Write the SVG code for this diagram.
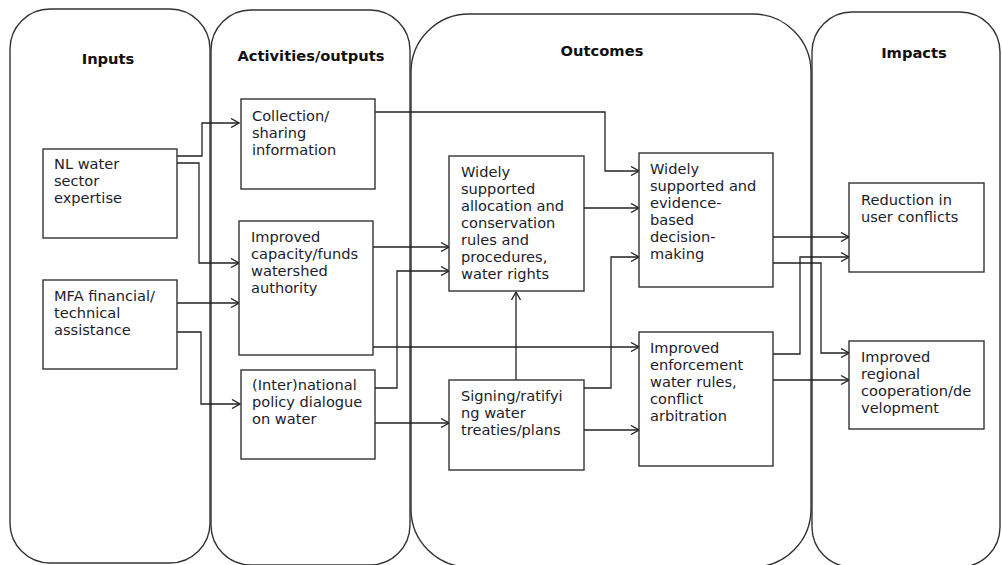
<svg xmlns="http://www.w3.org/2000/svg" width="1002" height="565" viewBox="0 0 1002 565">
  <defs>
    <marker id="arrow" markerWidth="10" markerHeight="10" refX="9" refY="5" orient="auto" markerUnits="userSpaceOnUse">
      <path d="M1,0.5 L9,5 L1,9.5" fill="none" stroke="#222" stroke-width="1.3"/>
    </marker>
    <style>
      .frame { fill: none; stroke: #333; stroke-width: 1.4; }
      .box { fill: #fff; stroke: #333; stroke-width: 1.4; }
      .title { font-family: "DejaVu Sans", Verdana, sans-serif; font-weight: bold; font-size: 14.7px; fill: #111; text-anchor: middle; }
      .label { font-family: "DejaVu Sans", Verdana, sans-serif; font-size: 14.6px; fill: #1c1c2a; }
      .conn { fill: none; stroke: #222; stroke-width: 1.3; }
      .conn.arr { marker-end: url(#arrow); }
    </style>
  </defs>
  <rect width="1002" height="565" fill="#fff"/>

  <!-- column frames -->
  <g id="columns">
    <g id="col-inputs">
      <rect class="frame" x="10" y="9" width="200" height="554" rx="40" ry="40"/>
      <text class="title" x="108" y="64">Inputs</text>
    </g>
    <g id="col-activities">
      <rect class="frame" x="211" y="10" width="199" height="555" rx="40" ry="40"/>
      <text class="title" x="311" y="61">Activities/outputs</text>
    </g>
    <g id="col-outcomes">
      <rect class="frame" x="411" y="14" width="400" height="553" rx="58" ry="58"/>
      <text class="title" x="602" y="55.5">Outcomes</text>
    </g>
    <g id="col-impacts">
      <rect class="frame" x="812" y="12" width="188" height="555" rx="40" ry="40"/>
      <text class="title" x="914" y="57.5">Impacts</text>
    </g>
  </g>

  <!-- connectors -->
  <g id="connectors">
    <polyline class="conn arr" points="177,156 202,156 202,123 239,123"/>
    <polyline class="conn arr" points="177,163 199,163 199,263 239,263"/>
    <polyline class="conn arr" points="177,303 239,303"/>
    <polyline class="conn arr" points="177,332 201,332 201,404 240,404"/>
    <polyline class="conn arr" points="375,112 605,112 605,171 639,171"/>
    <polyline class="conn arr" points="373,247 449,247"/>
    <polyline class="conn arr" points="375,388 397,388 397,271 449,271"/>
    <polyline class="conn arr" points="373,347 639,347"/>
    <polyline class="conn arr" points="375,423 449,423"/>
    <polyline class="conn arr" points="516,380 516,292"/>
    <polyline class="conn arr" points="584,388 611,388 611,257 639,257"/>
    <polyline class="conn arr" points="584,208 639,208"/>
    <polyline class="conn arr" points="584,430 639,430"/>
    <polyline class="conn arr" points="773,237 849,237"/>
    <polyline class="conn arr" points="773,263 821,263 821,353 849,353"/>
    <polyline class="conn arr" points="773,354 800,354 800,257 849,257"/>
    <polyline class="conn arr" points="773,380 849,380"/>
  </g>

  <!-- input nodes -->
  <g id="node-nl-expertise">
    <rect class="box" x="43" y="149" width="134" height="89"/>
    <text class="label" x="54" y="169">NL water</text>
    <text class="label" x="54" y="186">sector</text>
    <text class="label" x="54" y="203">expertise</text>
  </g>
  <g id="node-mfa-assistance">
    <rect class="box" x="43" y="280" width="134" height="89"/>
    <text class="label" x="54" y="301">MFA financial/</text>
    <text class="label" x="54" y="318">technical</text>
    <text class="label" x="54" y="335">assistance</text>
  </g>

  <!-- activity / output nodes -->
  <g id="node-collection">
    <rect class="box" x="241" y="99" width="134" height="90"/>
    <text class="label" x="252" y="121">Collection/</text>
    <text class="label" x="252" y="138">sharing</text>
    <text class="label" x="252" y="155">information</text>
  </g>
  <g id="node-capacity">
    <rect class="box" x="239" y="221" width="134" height="134"/>
    <text class="label" x="251" y="242">Improved</text>
    <text class="label" x="251" y="259">capacity/funds</text>
    <text class="label" x="251" y="276">watershed</text>
    <text class="label" x="251" y="293">authority</text>
  </g>
  <g id="node-policy-dialogue">
    <rect class="box" x="241" y="370" width="134" height="89"/>
    <text class="label" x="252" y="390">(Inter)national</text>
    <text class="label" x="252" y="407">policy dialogue</text>
    <text class="label" x="252" y="424">on water</text>
  </g>

  <!-- outcome nodes -->
  <g id="node-allocation-rules">
    <rect class="box" x="449" y="156" width="135" height="135"/>
    <text class="label" x="461" y="177">Widely</text>
    <text class="label" x="461" y="194">supported</text>
    <text class="label" x="461" y="211">allocation and</text>
    <text class="label" x="461" y="228">conservation</text>
    <text class="label" x="461" y="245">rules and</text>
    <text class="label" x="461" y="262">procedures,</text>
    <text class="label" x="461" y="279">water rights</text>
  </g>
  <g id="node-decision-making">
    <rect class="box" x="639" y="153" width="134" height="134"/>
    <text class="label" x="650" y="174">Widely</text>
    <text class="label" x="650" y="191">supported and</text>
    <text class="label" x="650" y="208">evidence-</text>
    <text class="label" x="650" y="225">based</text>
    <text class="label" x="650" y="242">decision-</text>
    <text class="label" x="650" y="259">making</text>
  </g>
  <g id="node-treaties">
    <rect class="box" x="449" y="380" width="135" height="90"/>
    <text class="label" x="461" y="401">Signing/ratifyi</text>
    <text class="label" x="461" y="418">ng water</text>
    <text class="label" x="461" y="435">treaties/plans</text>
  </g>
  <g id="node-enforcement">
    <rect class="box" x="639" y="332" width="134" height="134"/>
    <text class="label" x="650" y="352.5">Improved</text>
    <text class="label" x="650" y="369.5">enforcement</text>
    <text class="label" x="650" y="386.5">water rules,</text>
    <text class="label" x="650" y="403.5">conflict</text>
    <text class="label" x="650" y="420.5">arbitration</text>
  </g>

  <!-- impact nodes -->
  <g id="node-reduction-conflicts">
    <rect class="box" x="849" y="183" width="135" height="89"/>
    <text class="label" x="861" y="205">Reduction in</text>
    <text class="label" x="861" y="222">user conflicts</text>
  </g>
  <g id="node-regional-cooperation">
    <rect class="box" x="849" y="341" width="135" height="88"/>
    <text class="label" x="861" y="362">Improved</text>
    <text class="label" x="861" y="379">regional</text>
    <text class="label" x="861" y="396">cooperation/de</text>
    <text class="label" x="861" y="413">velopment</text>
  </g>
</svg>
